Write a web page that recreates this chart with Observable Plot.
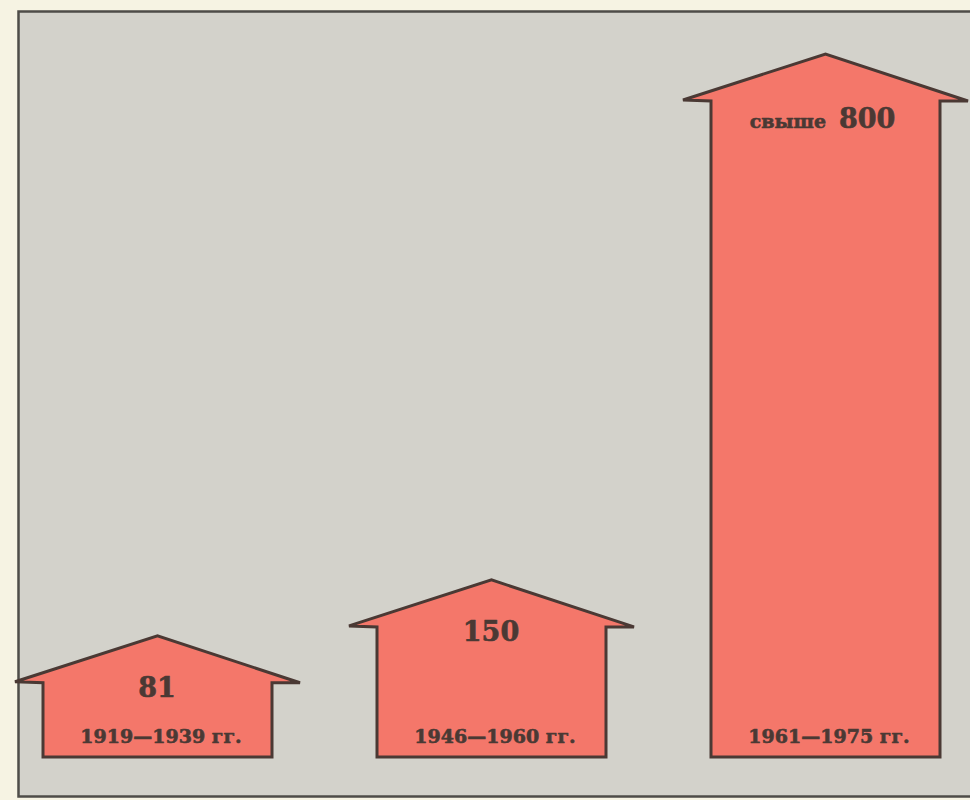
<!DOCTYPE html>
<html><head><meta charset="utf-8">
<script src="https://cdn.jsdelivr.net/npm/d3@7"></script>
<script src="https://cdn.jsdelivr.net/npm/@observablehq/plot@0.6"></script>
<style>
html,body{margin:0;padding:0;background:#f6f3e3;}
#chart{width:970px;height:800px;overflow:hidden;}
</style></head><body><div id="chart"></div>
<script>
// ---- data ----
const periods = ["1919—1939 гг.", "1946—1960 гг.", "1961—1975 гг."];
const values = [81, 150, 800];
const valueLabels = ["81", "150", "800"];
const prefixes = ["", "", "свыше"];
const yDomain = [-12, 800];

const rows = periods.map((p, i) => ({period: p, value: values[i], label: valueLabels[i], prefix: prefixes[i]}));

// ---- style ----
const FILL = "#f4776a", INK = "#4a3934", BG = "#d3d2cb", BORDER = "#4e4c48";
const FONT = "'DejaVu Serif', serif";
const ROOF_H = 46, OVERHANG = 28;

function houses(index, scales) {
  const x = scales.x, y = scales.y;
  const bw = x.bandwidth();
  const yb = y(yDomain[0]);
  const g = d3.create("svg:g");
  rows.forEach(d => {
    const x0 = x(d.period), x1 = x0 + bw, xc = x0 + bw / 2, yt = y(d.value);
    const pts = [[x0, yb], [x0, yt + 1], [x0 - OVERHANG, yt], [xc, yt - ROOF_H],
                 [x1 + OVERHANG, yt + 1], [x1, yt + 1], [x1, yb]];
    g.append("path")
      .attr("d", "M" + pts.map(p => p.join(",")).join("L") + "Z")
      .attr("fill", FILL).attr("stroke", INK).attr("stroke-width", 3)
      .attr("stroke-linejoin", "miter");
  });
  return g.node();
}

const txt = {fill: INK, stroke: INK, strokeWidth: 0.6, fontWeight: "bold", fontFamily: FONT, lineAnchor: "bottom"};

const chart = Plot.plot({
  width: 970, height: 800,
  marginLeft: 42, marginRight: 28, marginTop: 100, marginBottom: 43,
  style: {background: "transparent", overflow: "visible", fontFamily: FONT},
  x: {type: "band", domain: periods, paddingInner: 0.313, paddingOuter: 0, axis: null},
  y: {domain: yDomain, axis: null},
  marks: [
    Plot.frame({fill: BG, stroke: BORDER, strokeWidth: 2.5,
      insetLeft: -24, insetTop: -89, insetBottom: -39, insetRight: -40}),
    houses,
    Plot.text(rows.filter(d => !d.prefix), {...txt, x: "period", y: "value", text: "label",
      dy: 15, dx: -1, fontSize: 27}),
    Plot.text(rows.filter(d => d.prefix), {...txt, x: "period", y: "value", text: "prefix",
      textAnchor: "end", dy: 27, dx: 0, fontSize: 19}),
    Plot.text(rows.filter(d => d.prefix), {...txt, x: "period", y: "value", text: "label",
      textAnchor: "start", dy: 27, dx: 13, fontSize: 27}),
    Plot.text(rows, {...txt, x: "period", frameAnchor: "bottom", text: "period",
      dy: -15, dx: 3, fontSize: 19})
  ]
});
document.getElementById("chart").append(chart);
</script>
</body></html>
